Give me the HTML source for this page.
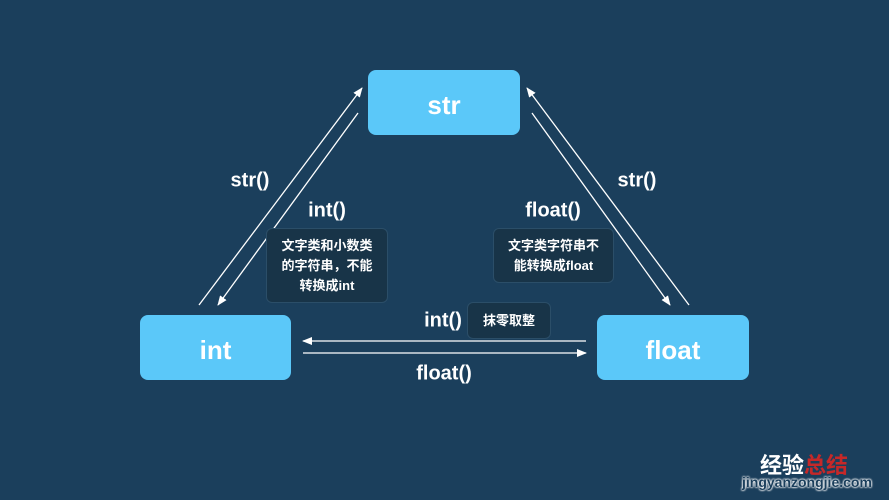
<!DOCTYPE html>
<html><head><meta charset="utf-8"><style>
body{margin:0;width:889px;height:500px;background:#1b3f5c;position:relative;overflow:hidden;font-family:"Liberation Sans","Noto Sans CJK SC",sans-serif;color:#fff}
.n{position:absolute;background:#5bc8f9;border-radius:8px;font-weight:bold;font-size:26px;display:flex;align-items:center;justify-content:center;color:#fff;padding-top:5px;box-sizing:border-box}
.l{position:absolute;font-weight:bold;font-size:20px;transform:translate(-50%,-50%);white-space:nowrap}
.b{position:absolute;background:#183448;border:1px solid #2b4e68;border-radius:6px;font-size:13px;font-weight:bold;display:flex;align-items:center;justify-content:center;text-align:center;line-height:20px}
</style></head><body>
<svg width="889" height="500" style="position:absolute;left:0;top:0">
<defs><marker id="a" markerWidth="10" markerHeight="8" refX="9" refY="4" orient="auto" markerUnits="userSpaceOnUse"><path d="M0,0 L10,4 L0,8 Z" fill="#fff"/></marker></defs>
<g stroke="#fff" stroke-width="1.3" fill="none">
<line x1="199" y1="305" x2="362" y2="88" marker-end="url(#a)"/>
<line x1="358" y1="113" x2="218" y2="305" marker-end="url(#a)"/>
<line x1="689" y1="305" x2="527" y2="88" marker-end="url(#a)"/>
<line x1="532" y1="113" x2="670" y2="305" marker-end="url(#a)"/>
<line x1="586" y1="341" x2="303" y2="341" marker-end="url(#a)"/>
<line x1="303" y1="353" x2="586" y2="353" marker-end="url(#a)"/>
</g></svg>
<div class="n" style="left:368px;top:70px;width:152px;height:65px">str</div>
<div class="n" style="left:140px;top:315px;width:151px;height:65px">int</div>
<div class="n" style="left:597px;top:315px;width:152px;height:65px">float</div>
<div class="l" style="left:250px;top:181px">str()</div>
<div class="l" style="left:327px;top:211px">int()</div>
<div class="l" style="left:553px;top:211px">float()</div>
<div class="l" style="left:637px;top:181px">str()</div>
<div class="l" style="left:443px;top:321px">int()</div>
<div class="l" style="left:444px;top:374px">float()</div>
<div class="b" style="left:266px;top:228px;width:120px;height:73px">文字类和小数类<br>的字符串，不能<br>转换成int</div>
<div class="b" style="left:493px;top:228px;width:119px;height:53px">文字类字符串不<br>能转换成float</div>
<div class="b" style="left:467px;top:302px;width:82px;height:35px">抹零取整</div>
<div style="position:absolute;left:760px;top:448px;font-size:22px;font-weight:bold;color:#fff">经验<span style="color:#c62828">总结</span></div>
<div style="position:absolute;left:742px;top:474px;font-size:14px;font-weight:bold;color:#1b3f5c;text-shadow:0 0 2px #fff,0 0 2px #fff,0 0 2px #fff">jingyanzongjie.com</div>
</body></html>
